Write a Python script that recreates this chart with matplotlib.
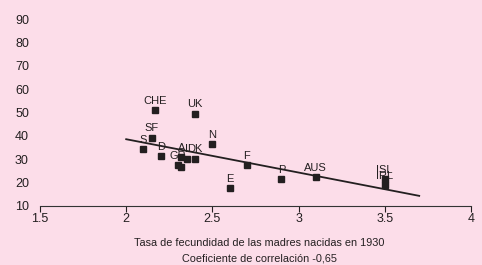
import matplotlib as mpl
import matplotlib.pyplot as plt

mpl.rcParams.update(
    {
        "font.family": ["Liberation Sans", "DejaVu Sans"],
        "font.size": 8,
        "text.color": "#231f20",
        "xtick.color": "#231f20",
        "ytick.color": "#231f20",
    }
)

BG = "#fcdde9"
INK = "#231f20"

# fertility rate of mothers born in 1930 (x) vs. value on vertical axis (y)
countries = ["CHE", "UK", "SF", "S", "D", "N", "A", "I", "DK", "GR", "",
             "F", "E", "P", "AUS", "ISL", "IRL"]
fertility = [2.17, 2.40, 2.15, 2.10, 2.20, 2.50, 2.32, 2.35, 2.40, 2.30, 2.32,
             2.70, 2.60, 2.90, 3.10, 3.50, 3.50]
values = [51.0, 49.5, 39.2, 34.3, 31.3, 36.4, 30.8, 30.2, 30.2, 27.3, 26.4,
          27.3, 17.5, 21.3, 22.3, 21.3, 18.8]

# fitted line endpoints
fit_x = [2.0, 3.7]
fit_y = [38.5, 14.2]

x_ticks = [1.5, 2, 2.5, 3, 3.5, 4]
x_tick_labels = ["1.5", "2", "2.5", "3", "3.5", "4"]
y_ticks = [10, 20, 30, 40, 50, 60, 70, 80, 90]

fig = plt.figure(figsize=(4.82, 2.65), dpi=100, facecolor=BG)
ax = fig.add_axes([0.083, 0.224, 0.894, 0.73])
ax.set_facecolor(BG)

ax.plot(fit_x, fit_y, color=INK, lw=1.3, zorder=2)
ax.plot(fertility, values, ls="none", marker="s", ms=5.0, color=INK, zorder=3)

for name, xv, yv in zip(countries, fertility, values):
    if not name:
        continue
    ax.annotate(name, (xv, yv), xytext=(0, 3.2), textcoords="offset points",
                ha="center", va="bottom", fontsize=8, color=INK, zorder=4)

ax.set_xlim(1.5, 4.0)
ax.set_ylim(10, 93)
ax.set_xticks(x_ticks)
ax.set_xticklabels(x_tick_labels, fontsize=9)
ax.set_yticks(y_ticks)
ax.tick_params(axis="y", length=0, pad=8, labelsize=9)
ax.tick_params(axis="x", direction="out", length=4, width=0.8, pad=1)

for side in ("top", "right", "left"):
    ax.spines[side].set_visible(False)
ax.spines["bottom"].set_color("#333333")
ax.spines["bottom"].set_linewidth(0.8)

fig.text(0.538, 0.083, "Tasa de fecundidad de las madres nacidas en 1930",
         ha="center", va="center", fontsize=7.8)
fig.text(0.538, 0.026, "Coeficiente de correlación -0,65",
         ha="center", va="center", fontsize=7.8)

fig.savefig("out.png", dpi=100, facecolor=BG)
